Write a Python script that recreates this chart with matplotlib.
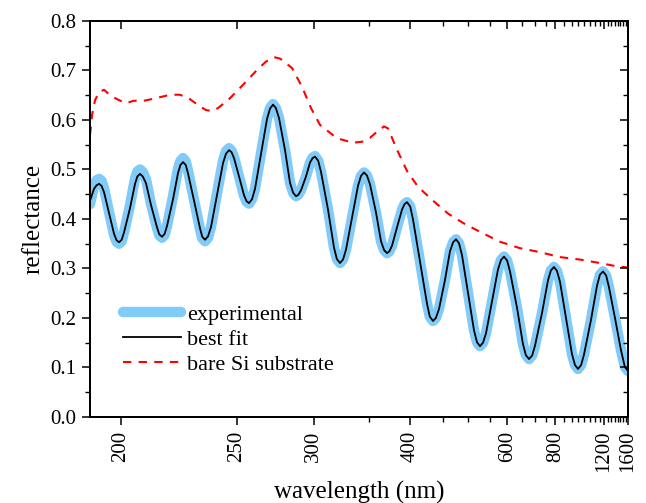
import numpy as np
import matplotlib
matplotlib.use("Agg")
import matplotlib.pyplot as plt
from matplotlib.ticker import MultipleLocator

plt.rcParams['font.family'] = ['Liberation Serif', 'DejaVu Serif']

# Sample points. The x axis is linear in 1/wavelength,
# so positions were read as photon energy (eV) and converted to nm below.
energy_fit = [
    6.5250, 6.4822, 6.4555, 6.4288, 6.4021, 6.3753, 6.3219, 6.2685, 6.2417, 6.2150,
    6.1869, 6.1616, 6.0975, 6.0440, 6.0187, 5.9906, 5.9612, 5.9265, 5.8730, 5.8089,
    5.7848, 5.7554, 5.7273, 5.7020, 5.6379, 5.5844, 5.5591, 5.5310, 5.5016, 5.4776,
    5.4134, 5.3493, 5.3253, 5.2959, 5.2638, 5.2317, 5.1676, 5.1035, 5.0715, 5.0394,
    5.0127, 4.9859, 4.9325, 4.8790, 4.8523, 4.8256, 4.7935, 4.7615, 4.6973, 4.6332,
    4.6012, 4.5691, 4.5384, 4.5050, 4.4408, 4.3874, 4.3540, 4.3233, 4.2979, 4.2698,
    4.2164, 4.1736, 4.1456, 4.1202, 4.0868, 4.0561, 3.9812, 3.9171, 3.8864, 3.8530,
    3.8209, 3.7889, 3.7247, 3.6606, 3.6286, 3.5965, 3.5658, 3.5323, 3.4682, 3.4148,
    3.3813, 3.3506, 3.3239, 3.2972, 3.2438, 3.1903, 3.1636, 3.1369, 3.1022, 3.0728,
    2.9979, 2.9231, 2.8937, 2.8590, 2.8283, 2.7949, 2.7307, 2.6773, 2.6439, 2.6132,
    2.5811, 2.5490, 2.4849, 2.4208, 2.3888, 2.3567, 2.3246, 2.2925, 2.2284, 2.1643,
    2.1323, 2.1002, 2.0668, 2.0360, 1.9612, 1.8971, 1.8664, 1.8330, 1.7996, 1.7688,
    1.6940, 1.6299, 1.5992, 1.5658, 1.5337, 1.5016, 1.4375, 1.3734, 1.3413, 1.3092,
    1.2758, 1.2451, 1.1703, 1.1062, 1.0754, 1.0420, 1.0086, 0.9779, 0.9138, 0.8497,
    0.8082, 0.7748,
]
reflectance_fit = [
    0.437, 0.461, 0.468, 0.471, 0.467, 0.454, 0.412, 0.370, 0.357, 0.353,
    0.358, 0.373, 0.422, 0.471, 0.486, 0.491, 0.486, 0.472, 0.428, 0.383,
    0.369, 0.364, 0.370, 0.386, 0.440, 0.493, 0.509, 0.515, 0.509, 0.492,
    0.437, 0.381, 0.364, 0.358, 0.365, 0.384, 0.449, 0.513, 0.532, 0.539,
    0.535, 0.523, 0.486, 0.448, 0.436, 0.432, 0.440, 0.461, 0.532, 0.602,
    0.623, 0.631, 0.624, 0.604, 0.539, 0.473, 0.453, 0.446, 0.449, 0.458,
    0.486, 0.514, 0.523, 0.526, 0.518, 0.495, 0.419, 0.342, 0.319, 0.311,
    0.318, 0.338, 0.403, 0.467, 0.487, 0.494, 0.488, 0.470, 0.413, 0.355,
    0.337, 0.331, 0.335, 0.346, 0.383, 0.419, 0.430, 0.434, 0.425, 0.399,
    0.314, 0.229, 0.203, 0.194, 0.200, 0.218, 0.277, 0.335, 0.353, 0.359,
    0.351, 0.327, 0.251, 0.175, 0.151, 0.143, 0.150, 0.169, 0.234, 0.298,
    0.317, 0.324, 0.316, 0.294, 0.221, 0.147, 0.125, 0.117, 0.124, 0.144,
    0.210, 0.276, 0.296, 0.303, 0.295, 0.273, 0.200, 0.127, 0.105, 0.097,
    0.105, 0.126, 0.196, 0.265, 0.287, 0.294, 0.286, 0.262, 0.200, 0.135,
    0.101, 0.093,
]
reflectance_exp = [
    0.430, 0.468, 0.478, 0.481, 0.477, 0.462, 0.414, 0.368, 0.354, 0.350,
    0.355, 0.373, 0.428, 0.482, 0.496, 0.500, 0.495, 0.480, 0.430, 0.382,
    0.367, 0.362, 0.368, 0.386, 0.446, 0.502, 0.517, 0.523, 0.516, 0.498,
    0.438, 0.379, 0.361, 0.355, 0.362, 0.384, 0.452, 0.518, 0.537, 0.543,
    0.538, 0.525, 0.486, 0.447, 0.435, 0.431, 0.440, 0.461, 0.533, 0.603,
    0.624, 0.632, 0.624, 0.604, 0.539, 0.473, 0.453, 0.446, 0.449, 0.458,
    0.486, 0.514, 0.524, 0.527, 0.518, 0.495, 0.419, 0.342, 0.319, 0.311,
    0.318, 0.338, 0.403, 0.467, 0.487, 0.494, 0.488, 0.470, 0.413, 0.355,
    0.337, 0.331, 0.335, 0.346, 0.383, 0.419, 0.430, 0.434, 0.425, 0.399,
    0.314, 0.229, 0.203, 0.194, 0.200, 0.218, 0.277, 0.335, 0.353, 0.359,
    0.351, 0.327, 0.251, 0.175, 0.151, 0.143, 0.150, 0.169, 0.234, 0.298,
    0.317, 0.324, 0.316, 0.294, 0.221, 0.147, 0.125, 0.117, 0.124, 0.144,
    0.210, 0.276, 0.296, 0.303, 0.295, 0.273, 0.200, 0.127, 0.105, 0.097,
    0.105, 0.126, 0.196, 0.265, 0.287, 0.294, 0.286, 0.262, 0.200, 0.135,
    0.101, 0.093,
]

energy_si = [
    6.5250, 6.5036, 6.4715, 6.4288, 6.3753, 6.3112, 6.2257, 6.1402, 6.0547, 5.9692,
    5.8196, 5.6699, 5.5631, 5.4562, 5.3707, 5.2852, 5.2210, 5.1569, 5.0287, 4.8897,
    4.7401, 4.6439, 4.5584, 4.4943, 4.3660, 4.2591, 4.1629, 4.0667, 3.8850, 3.7140,
    3.6178, 3.5323, 3.4468, 3.3827, 3.3400, 3.2438, 3.1369, 3.0193, 2.8590, 2.6987,
    2.5384, 2.3460, 2.1429, 1.9291, 1.7154, 1.5016, 1.2879, 1.0741, 0.9138, 0.7748,
]
reflectance_si = [
    0.570, 0.610, 0.640, 0.656, 0.661, 0.650, 0.641, 0.634, 0.639, 0.638,
    0.644, 0.651, 0.651, 0.642, 0.630, 0.620, 0.618, 0.624, 0.644, 0.671,
    0.701, 0.718, 0.727, 0.724, 0.705, 0.667, 0.624, 0.590, 0.563, 0.554,
    0.556, 0.564, 0.578, 0.587, 0.583, 0.540, 0.497, 0.465, 0.437, 0.411,
    0.392, 0.373, 0.354, 0.341, 0.333, 0.323, 0.318, 0.311, 0.305, 0.302,
]

wavelength_ticks = [200, 250, 300, 400, 600, 800, 1200, 1600]

HC = 1239.84  # eV * nm
wl_fit = HC / np.array(energy_fit)
wl_si = HC / np.array(energy_si)


def inv_wl(w):
    # -1/w is increasing, and is its own inverse
    w = np.asarray(w, dtype=float)
    with np.errstate(divide='ignore', invalid='ignore'):
        return -1.0 / w


def style_ticks(a, axis, direction):
    a.tick_params(axis=axis, which='major', direction=direction, length=6, width=1.1)
    a.tick_params(axis=axis, which='minor', direction=direction, length=3.5, width=1.0)


fig = plt.figure(figsize=(6.46, 5.03), dpi=100)
ax = fig.add_axes([0.1393, 0.171, 0.8328, 0.7873])

ax.plot(wl_fit, reflectance_exp, color='#80cbf8', lw=7.5, solid_capstyle='round',
        solid_joinstyle='round', label='experimental')
ax.plot(wl_fit, reflectance_fit, color='black', lw=1.3, solid_joinstyle='round',
        label='best fit')
ax.plot(wl_si, reflectance_si, color='red', lw=1.5, ls=(0, (4, 3.5)),
        label='bare Si substrate')

ax.set_xscale('function', functions=(inv_wl, inv_wl))
ax.set_xlim(190, 1600)
ax.set_ylim(0, 0.8)

ax.set_xticks(wavelength_ticks, labels=[str(t) for t in wavelength_ticks],
              rotation=90, fontsize=15)
ax.xaxis.set_minor_locator(MultipleLocator(50))
ax.yaxis.set_major_locator(MultipleLocator(0.1))
ax.yaxis.set_minor_locator(MultipleLocator(0.05))
ax.tick_params(axis='y', labelsize=15, pad=4)
ax.tick_params(axis='x', pad=4)
style_ticks(ax, 'x', 'out')
style_ticks(ax, 'y', 'out')

# mirrored ticks on top and right, pointing inward
top = ax.twiny()
top.set_xscale('function', functions=(inv_wl, inv_wl))
top.set_xlim(190, 1600)
top.set_xticks(wavelength_ticks)
top.xaxis.set_minor_locator(MultipleLocator(50))
top.tick_params(axis='x', labeltop=False)
style_ticks(top, 'x', 'in')

right = ax.twinx()
right.set_ylim(0, 0.8)
right.yaxis.set_major_locator(MultipleLocator(0.1))
right.yaxis.set_minor_locator(MultipleLocator(0.05))
right.tick_params(axis='y', labelright=False)
style_ticks(right, 'y', 'in')

for a in (ax, top, right):
    for s in a.spines.values():
        s.set_linewidth(1.2)

ax.set_xlabel('wavelength (nm)', fontsize=18, labelpad=6)
ax.set_ylabel('reflectance', fontsize=18, labelpad=4)

ax.legend(loc='center left', bbox_to_anchor=(0.062, 0.195), frameon=False,
          fontsize=16, handlelength=2.6, handletextpad=0.25, labelspacing=0.2,
          borderpad=0, borderaxespad=0)

plt.savefig('out.png', dpi=100)
